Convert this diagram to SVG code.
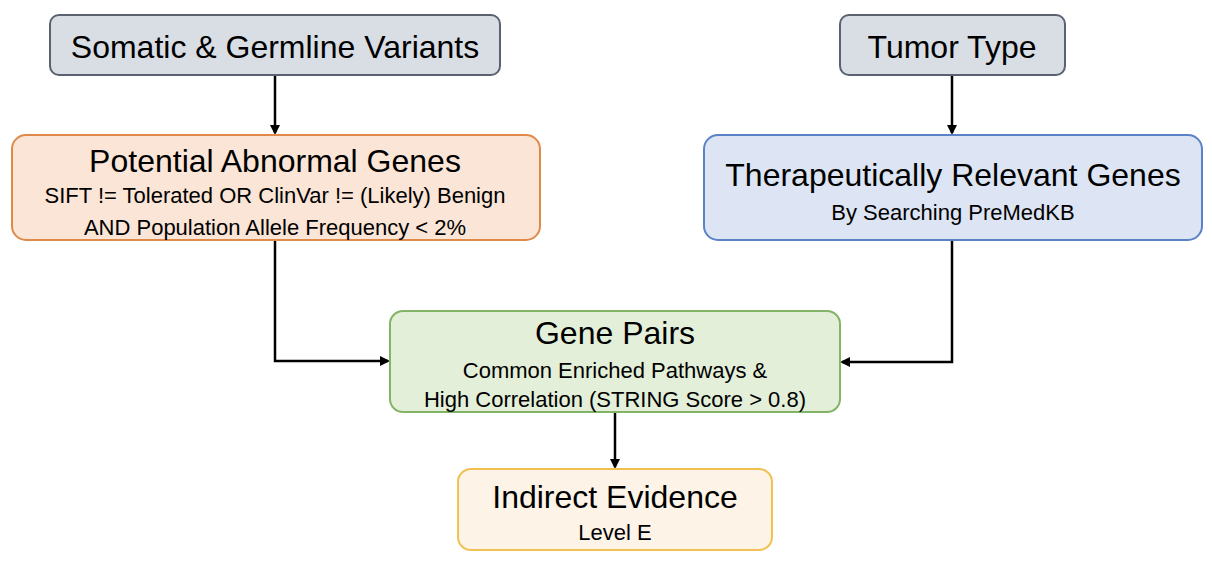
<svg xmlns="http://www.w3.org/2000/svg" width="1212" height="564" viewBox="0 0 1212 564">
<style>
text{font-family:"Liberation Sans",Arial,sans-serif;fill:#000;text-anchor:middle}
.t{font-size:32px}
.s{font-size:22px}
.c{fill:none;stroke:#000;stroke-width:2.5}
rect{stroke-width:2}
</style>
<defs>
<marker id="a" markerWidth="10" markerHeight="10" refX="8" refY="5" orient="auto" markerUnits="userSpaceOnUse">
<path d="M0,0 L10,5 L0,10 Z" fill="#000"/>
</marker>
</defs>
<rect width="1212" height="564" fill="#fff" stroke="none"/>
<g id="connectors">
<path class="c" d="M275,76 V133" marker-end="url(#a)"/>
<path class="c" d="M952,76 V133" marker-end="url(#a)"/>
<path class="c" d="M275,241 V361 H388" marker-end="url(#a)"/>
<path class="c" d="M952,241 V362 H842" marker-end="url(#a)"/>
<path class="c" d="M615,413 V467" marker-end="url(#a)"/>
</g>
<g id="somatic">
<rect x="50" y="15" width="450" height="60" rx="9" fill="#d9dde4" stroke="#5a6270"/>
<text class="t" x="275" y="58">Somatic &amp; Germline Variants</text>
</g>
<g id="tumor">
<rect x="840" y="15" width="225" height="60" rx="9" fill="#d9dde4" stroke="#5a6270"/>
<text class="t" x="952" y="58">Tumor Type</text>
</g>
<g id="abnormal">
<rect x="12" y="135" width="528" height="105" rx="14" fill="#fae5d6" stroke="#e08a4a"/>
<text class="t" x="275" y="172">Potential Abnormal Genes</text>
<text class="s" x="275" y="203">SIFT != Tolerated OR ClinVar != (Likely) Benign</text>
<text class="s" x="275" y="235">AND Population Allele Frequency &lt; 2%</text>
</g>
<g id="therapeutic">
<rect x="704" y="135" width="498" height="105" rx="14" fill="#dde4f3" stroke="#5a83c7"/>
<text class="t" x="953" y="186">Therapeutically Relevant Genes</text>
<text class="s" x="953" y="220">By Searching PreMedKB</text>
</g>
<g id="pairs">
<rect x="390" y="311" width="450" height="101" rx="13" fill="#e3efd8" stroke="#82b366"/>
<text class="t" x="615" y="344">Gene Pairs</text>
<text class="s" x="615" y="378">Common Enriched Pathways &amp;</text>
<text class="s" x="615" y="407">High Correlation (STRING Score &gt; 0.8)</text>
</g>
<g id="indirect">
<rect x="458" y="469" width="314" height="81" rx="13" fill="#fdf4e7" stroke="#f0c050"/>
<text class="t" x="615" y="508">Indirect Evidence</text>
<text class="s" x="615" y="540">Level E</text>
</g>
</svg>
